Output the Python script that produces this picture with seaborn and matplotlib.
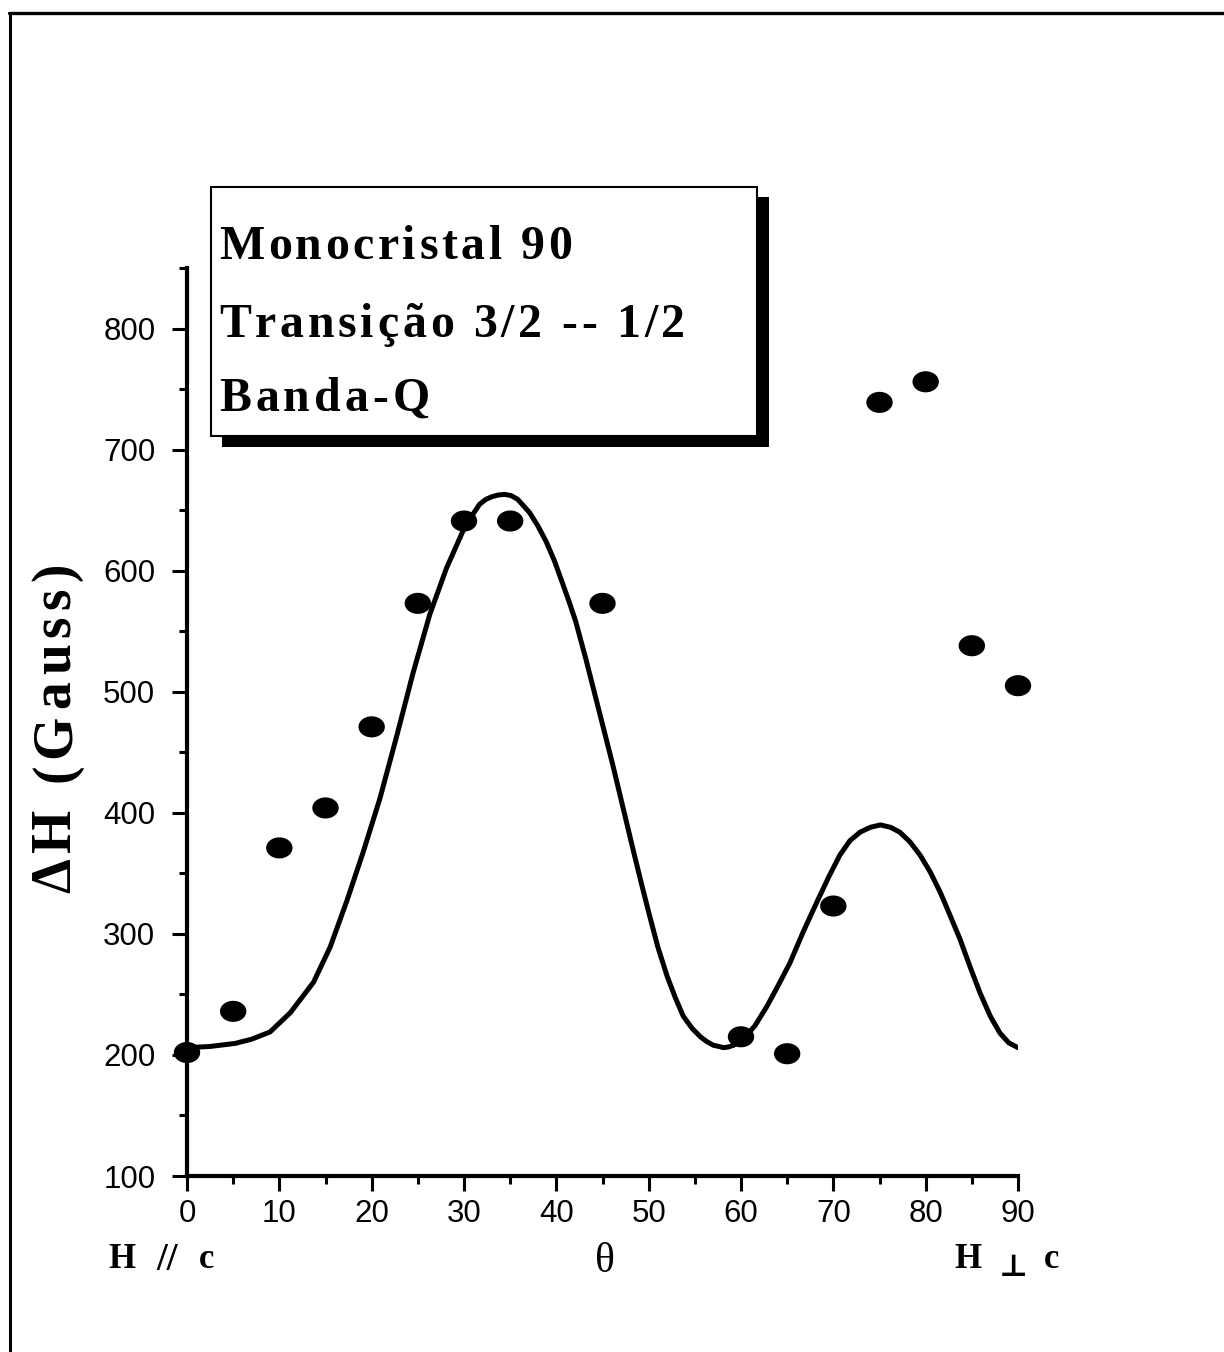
import numpy as np
import matplotlib
matplotlib.use("Agg")
import matplotlib.pyplot as plt
import seaborn as sns
from matplotlib.path import Path
from matplotlib.patches import Rectangle
from matplotlib.lines import Line2D
from matplotlib.font_manager import FontProperties, findfont, get_font

# ---- data -------------------------------------------------------------
theta_meas = [0, 5, 10, 15, 20, 25, 30, 35, 45, 60, 65, 70, 75, 80, 85, 90]
dH_meas = [202, 236, 371, 404, 471, 573, 641, 641, 573, 215, 201, 323, 739, 756, 538, 505]

theta_fit = [0, 2.5, 5.2, 7, 9, 11.2, 13.7, 15.5, 17.3, 19.1, 20.9, 22.7, 24.5,
             26.3, 28.1, 29.9, 31.0, 31.7, 32.4, 33.0, 33.7, 34.4, 35.1, 35.8,
             36.4, 37.1, 38.0, 38.9, 39.8, 40.7, 41.4, 42.1, 43.2, 44.3, 45.2,
             46.1, 47.2, 48.3, 49.2, 50.1, 51.0, 52.0, 52.9, 53.75, 54.7, 55.6,
             56.3, 57.0, 57.6, 58.1, 58.6, 59.2, 60.25, 61.5, 62.8, 64.0, 65.3,
             66.7, 68.2, 69.5, 70.7, 71.8, 72.9, 74.0, 75.1, 76.2, 77.2, 78.3,
             79.4, 80.5, 81.6, 82.6, 83.7, 84.8, 85.9, 87.0, 88.05, 89.0, 90.0]
dH_fit = [206, 207, 209.5, 213, 219, 235, 260, 289, 327, 368, 412, 463, 516,
          564, 602, 633, 647, 655, 659, 661, 662.5, 663, 662, 659,
          654, 648, 637, 624, 608, 589, 574, 558, 527, 494, 467,
          440, 405, 370, 342, 315, 289, 265, 247, 232, 222, 215,
          211, 208, 207, 206, 206.5, 208, 213, 224, 240, 257, 276,
          301, 326, 347, 365, 377, 384, 388, 390, 388, 384, 376,
          365, 351, 334, 316, 296, 273, 251, 232, 218, 210, 206]

x_major = list(range(0, 91, 10))
x_minor = list(range(5, 90, 10))
y_major = list(range(100, 801, 100))
y_minor = list(range(150, 851, 100))

box_lines = ["Monocristal 90", "Transição 3/2 -- 1/2", "Banda-Q"]
y_title = "ΔH (Gauss)"

# ---- style ------------------------------------------------------------
sns.set_theme(style="ticks")
plt.rcParams["font.family"] = ["Liberation Sans", "DejaVu Sans"]
plt.rcParams["axes.edgecolor"] = "black"
plt.rcParams["xtick.color"] = "black"
plt.rcParams["ytick.color"] = "black"

W, H, DPI = 1224, 1352, 100
fig = plt.figure(figsize=(W / DPI, H / DPI), dpi=DPI)
fig.patch.set_facecolor("white")


def fx(x):
    return x / W


def fy(y):
    return 1 - y / H


SERIF = ["Liberation Serif", "DejaVu Serif"]


def spaced(s, x0, y0, target, size, weight="bold", rotation=0):
    """Draw text with even letter spacing so that it spans `target` pixels."""
    fp = FontProperties(family=SERIF, weight=weight, size=size)
    font = get_font(findfont(fp))
    font.set_size(size, DPI)
    adv = [font.load_char(ord(ch)).linearHoriAdvance / 65536 for ch in s]
    gap = (target - sum(adv)) / (len(s) - 1)
    pos = 0.0
    for ch, a in zip(s, adv):
        if rotation == 0:
            fig.text(fx(x0 + pos), fy(y0), ch, fontproperties=fp,
                     ha="left", va="baseline", color="black", zorder=6)
        else:
            fig.text(fx(x0), fy(y0 - pos), ch, fontproperties=fp, rotation=90,
                     rotation_mode="anchor", ha="left", va="baseline",
                     color="black", zorder=6)
        pos += a + gap


# ---- axes -------------------------------------------------------------
ax = fig.add_axes([fx(187), fy(1176), (1018 - 187) / W, (1176 - 268) / H])
ax.set_facecolor("white")

sns.lineplot(x=theta_fit, y=dH_fit, ax=ax, color="black", linewidth=3.6,
             sort=False, estimator=None, zorder=2)

t = np.linspace(0, 2 * np.pi, 64)
ellipse = Path(np.column_stack([np.cos(t), 0.8 * np.sin(t)]), closed=True)
sns.scatterplot(x=theta_meas, y=dH_meas, ax=ax, marker=ellipse, s=19 ** 2,
                color="black", edgecolor="none", linewidth=0, clip_on=False,
                zorder=3)

ax.set_xlim(0, 90)
ax.set_ylim(100, 850)
ax.set_xticks(x_major)
ax.set_xticks(x_minor, minor=True)
ax.set_yticks(y_major)
ax.set_yticks(y_minor, minor=True)
ax.set_xlabel("")
ax.set_ylabel("")
ax.tick_params(which="major", direction="out", length=10.8, width=2.2,
               labelsize=22.5)
ax.tick_params(which="minor", direction="out", length=6, width=2.2)
ax.tick_params(axis="x", which="major", pad=5.8)
ax.tick_params(axis="y", which="major", pad=12)
sns.despine(ax=ax)
for side in ("left", "bottom"):
    ax.spines[side].set_linewidth(3)
    ax.spines[side].set_color("black")
for lab in ax.get_xticklabels() + ax.get_yticklabels():
    lab.set_family(["Liberation Sans", "DejaVu Sans"])

# ---- axis titles ------------------------------------------------------
spaced(y_title, 70, 893, 330, 40, rotation=90)
fig.text(fx(605), fy(1272), "θ", family=SERIF, size=30, ha="center",
         va="baseline", color="black")
hp = dict(family=SERIF, weight="bold", size=25, va="baseline", color="black")
fig.text(fx(108), fy(1268), "H", ha="left", **hp)
fig.text(fx(156), fy(1270), "//", ha="left", **dict(hp, size=28))
fig.text(fx(199), fy(1268), "c", ha="left", **hp)
fig.text(fx(954), fy(1268), "H", ha="left", **hp)
fig.text(fx(1013), fy(1276), "⊥", ha="center", **dict(hp, size=22))
fig.text(fx(1044), fy(1268), "c", ha="left", **hp)

# ---- annotation box with drop shadow -----------------------------------
fig.add_artist(Rectangle((fx(222), fy(447)), (769 - 222) / W, (447 - 197) / H,
                         transform=fig.transFigure, facecolor="black",
                         edgecolor="none", zorder=4))
fig.add_artist(Rectangle((fx(211), fy(436)), (757 - 211) / W, (436 - 187) / H,
                         transform=fig.transFigure, facecolor="white",
                         edgecolor="black", linewidth=1.5, zorder=5))
spaced(box_lines[0], 219, 259, 353, 34.5)
spaced(box_lines[1], 219, 337, 466, 34.5)
spaced(box_lines[2], 219, 411, 211, 34.5)

# ---- page frame -------------------------------------------------------
fig.add_artist(Line2D([fx(10), fx(10)], [fy(13), 0], transform=fig.transFigure,
                      color="black", linewidth=2.2))
fig.add_artist(Line2D([fx(9), 1], [fy(13), fy(13)], transform=fig.transFigure,
                      color="black", linewidth=2.4))

fig.savefig("out.png", dpi=DPI, facecolor="white")
